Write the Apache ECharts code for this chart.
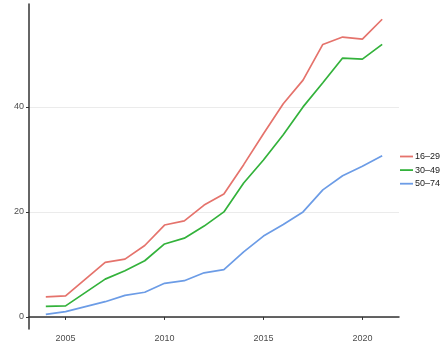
<!DOCTYPE html>
<html><head><meta charset="utf-8">
<script src="https://cdn.jsdelivr.net/npm/echarts@6/dist/echarts.min.js"></script>
<style>html,body{margin:0;padding:0;background:#fff}#c{width:448px;height:358px}</style>
</head><body><div id="c"></div>
<script>
const years = [2004, 2005, 2007, 2008, 2009, 2010, 2011, 2012, 2013, 2014, 2015, 2016, 2017, 2018, 2019, 2020, 2021];
const g16_29 = [3.8, 4.0, 10.4, 11.0, 13.6, 17.5, 18.3, 21.3, 23.4, 29.0, 34.9, 40.6, 45.1, 51.9, 53.3, 52.9, 56.7];
const g30_49 = [2.0, 2.1, 7.2, 8.8, 10.7, 13.9, 15.0, 17.3, 20.0, 25.5, 29.9, 34.7, 40.0, 44.6, 49.3, 49.1, 51.9];
const g50_74 = [0.5, 1.0, 2.9, 4.1, 4.7, 6.4, 6.9, 8.4, 9.0, 12.4, 15.4, 17.6, 20.0, 24.2, 26.9, 28.7, 30.7];
const seriesNames = ['16–29', '30–49', '50–74'];
const colors = ['#E5736C', '#33B23B', '#6C9CE6'];
const xTicks = [2005, 2010, 2015, 2020];
const yTicks = [0, 20, 40];

const all = [g16_29, g30_49, g50_74];
const chart = echarts.init(document.getElementById('c'));
chart.setOption({
  animation: false,
  backgroundColor: '#fff',
  grid: {left: 29, right: 49, top: 4, bottom: 29, containLabel: false},
  xAxis: {
    type: 'value', min: 2003.15, max: 2021.85,
    axisLine: {show: true, lineStyle: {color: '#333', width: 1.5}},
    axisTick: {show: true, length: 3, lineStyle: {color: '#333'}, customValues: xTicks},
    axisLabel: {color: '#4d4d4d', fontSize: 9, fontFamily: 'Liberation Sans, Arial', margin: 5, customValues: xTicks, formatter: v => String(v)},
    splitLine: {show: false}
  },
  yAxis: {
    type: 'value', min: -2.3, max: 59.6,
    axisLine: {show: true, lineStyle: {color: '#333', width: 1.5}},
    axisTick: {show: true, length: 3, lineStyle: {color: '#333'}, customValues: yTicks},
    axisLabel: {color: '#4d4d4d', fontSize: 9, fontFamily: 'Liberation Sans, Arial', margin: 5, customValues: yTicks, formatter: v => String(v)},
    splitLine: {show: false}
  },
  legend: {
    orient: 'vertical', left: 400, top: 152, width: 48, height: 50, padding: 0,
    icon: 'rect', itemWidth: 13, itemHeight: 1.8, itemGap: 4.6,
    textStyle: {fontSize: 9, color: '#1a1a1a', fontFamily: 'Liberation Sans, Arial', padding: [0, 0, 0, -3]},
    data: seriesNames
  },
  series: [
    {
      type: 'line', silent: true, symbol: 'none', data: [], z: 0,
      markLine: {
        silent: true, symbol: 'none', label: {show: false}, z: 0,
        lineStyle: {color: '#ebebeb', width: 1, type: 'solid'},
        data: yTicks.map(v => ({yAxis: v}))
      }
    }
  ].concat(all.map((arr, i) => ({
    name: seriesNames[i], type: 'line', symbol: 'none', z: 5, showSymbol: false,
    lineStyle: {color: colors[i], width: 1.7},
    itemStyle: {color: colors[i]},
    data: years.map((y, j) => [y, arr[j]])
  })))
});
</script></body></html>
